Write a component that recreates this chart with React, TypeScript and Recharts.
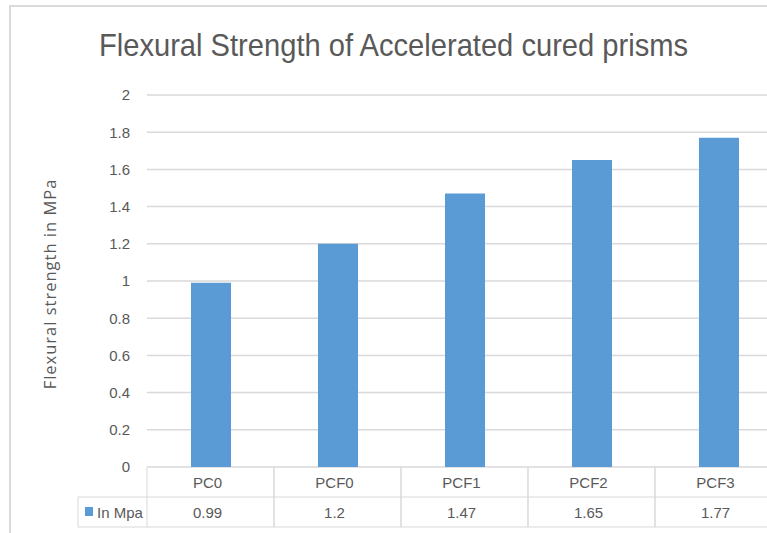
import { BarChart, Bar, XAxis, YAxis, CartesianGrid } from 'recharts';

const categories = ['PC0', 'PCF0', 'PCF1', 'PCF2', 'PCF3'];
const strengths = [0.99, 1.2, 1.47, 1.65, 1.77];
const valueLabels = ['0.99', '1.2', '1.47', '1.65', '1.77'];
const yTicks = [0, 0.2, 0.4, 0.6, 0.8, 1, 1.2, 1.4, 1.6, 1.8, 2];
const seriesName = 'In Mpa';

const data = categories.map((name, i) => ({ name, value: strengths[i] }));

const FONT = '"Liberation Sans", sans-serif';
const TEXT = '#595959';
const LINE = '#d9d9d9';
const BAR = '#5b9bd5';
const COL_W = 127;

interface TableTickProps {
  x?: number;
  y?: number;
  index?: number;
}

// data table under the plot: category row + value row, legend cell on the left
function TableTick({ x = 0, y = 0, index = 0 }: TableTickProps) {
  const left = x - COL_W / 2;
  const right = x + COL_W / 2;
  const top = y - 8;
  const mid = top + 30;
  const bottom = top + 60;
  return (
    <g>
      <line x1={left} y1={top} x2={left} y2={bottom} stroke={LINE} />
      <line x1={right} y1={top} x2={right} y2={bottom} stroke={LINE} />
      <line x1={left} y1={mid} x2={right} y2={mid} stroke={LINE} />
      <line x1={left} y1={bottom} x2={right} y2={bottom} stroke={LINE} />
      <text x={x - 3} y={top + 21} textAnchor="middle" fontSize={15} fill={TEXT} fontFamily={FONT}>
        {categories[index]}
      </text>
      <text x={x - 3} y={mid + 21} textAnchor="middle" fontSize={15} fill={TEXT} fontFamily={FONT}>
        {valueLabels[index]}
      </text>
      {index === 0 && (
        <g>
          <line x1={78} y1={mid} x2={left} y2={mid} stroke={LINE} />
          <line x1={78} y1={bottom} x2={left} y2={bottom} stroke={LINE} />
          <line x1={78} y1={mid} x2={78} y2={bottom} stroke={LINE} />
          <rect x={85} y={mid + 10} width={8} height={9} fill={BAR} />
          <text x={97} y={mid + 21} fontSize={15} fill={TEXT} fontFamily={FONT}>
            {seriesName}
          </text>
        </g>
      )}
    </g>
  );
}

export default function App() {
  return (
    <div
      style={{
        position: 'fixed',
        left: 0,
        top: 0,
        width: 767,
        height: 533,
        overflow: 'hidden',
        background: '#fff',
      }}
    >
      <div
        style={{
          position: 'absolute',
          left: 9,
          top: 5,
          width: 800,
          height: 540,
          borderLeft: `2px solid ${LINE}`,
          borderTop: `2px solid ${LINE}`,
        }}
      />
      <div
        style={{
          position: 'absolute',
          left: 0,
          top: 27,
          width: 787,
          textAlign: 'center',
          fontFamily: FONT,
          fontSize: 32,
          color: TEXT,
          whiteSpace: 'nowrap',
          transform: 'scaleX(0.91)',
        }}
      >
        Flexural Strength of Accelerated cured prisms
      </div>
      <div
        style={{
          position: 'absolute',
          left: 49,
          top: 284,
          transform: 'translate(-50%, -50%) rotate(-90deg)',
          fontFamily: '"Open Sans", sans-serif',
          fontSize: 16.5,
          letterSpacing: 1,
          color: TEXT,
          whiteSpace: 'nowrap',
        }}
      >
        Flexural strength in MPa
      </div>
      <div style={{ position: 'absolute', left: 0, top: 0 }}>
        <BarChart
          width={800}
          height={533}
          data={data}
          margin={{ top: 95, right: 18, bottom: 6, left: 0 }}
          barCategoryGap={0}
        >
          <CartesianGrid vertical={false} stroke={LINE} strokeWidth={1.5} />
          <YAxis
            width={147}
            domain={[0, 2]}
            ticks={yTicks}
            tickFormatter={(v: number) => String(v)}
            axisLine={false}
            tickLine={false}
            tickMargin={11}
            tick={{ fontSize: 15, fill: TEXT, fontFamily: FONT }}
          />
          <XAxis
            dataKey="name"
            height={60}
            axisLine={false}
            tickLine={false}
            interval={0}
            tick={<TableTick />}
          />
          <Bar dataKey="value" fill={BAR} barSize={40} isAnimationActive={false} />
        </BarChart>
      </div>
    </div>
  );
}
